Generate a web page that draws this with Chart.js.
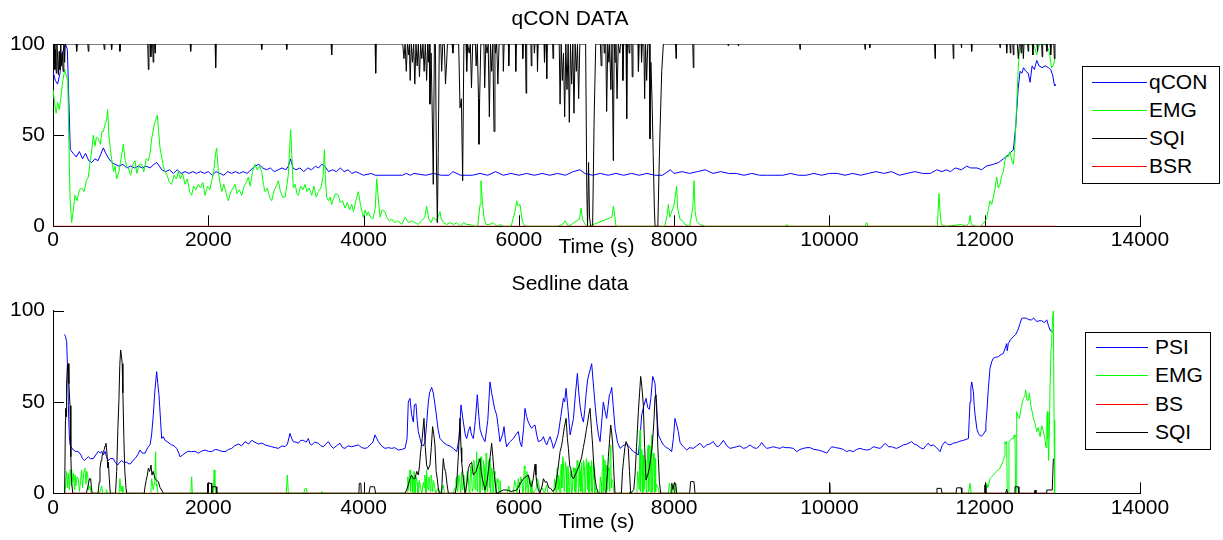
<!DOCTYPE html>
<html>
<head>
<meta charset="utf-8">
<script src="https://cdn.jsdelivr.net/npm/chart.js@4.4.0/dist/chart.umd.min.js"></script>
<style>
  body { margin: 0; background: #fff; width: 1223px; height: 540px; overflow: hidden; position: relative; font-family: "Liberation Sans", Arial, sans-serif; }
  canvas { position: absolute; left: 0; }
  #top { top: 0; }
  #bottom { top: 260px; }
  .legend { position: absolute; border: 1px solid #000; background: #fff; box-sizing: border-box; }
  .legend .ln { position: absolute; height: 0; border-top: 1px solid; }
  .legend .tx { position: absolute; font-size: 21px; line-height: 24px; height: 24px; color: #000; white-space: nowrap; }
</style>
</head>
<body>
<canvas id="top" width="1223" height="260"></canvas>
<canvas id="bottom" width="1223" height="280"></canvas>
<div id="legTop" class="legend" style="left:1082px;top:66px;width:138px;height:118px"></div>
<div id="legBottom" class="legend" style="left:1085px;top:332px;width:126px;height:118px"></div>
<script>
// axis ticks
const timeTicks = [0, 2000, 4000, 6000, 8000, 10000, 12000, 14000];
const valueTicks = [0, 50, 100];

// ---- qCON DATA (time s, value) ----
const topLabels = ["qCON", "EMG", "SQI", "BSR"];
const topColors = ["#0000ff", "#00ff00", "#000000", "#ff0000"];

const qconTop = [[0,85],[30,80],[60,78],[90,84],[120,95],[160,100],[185,97],[200,75],[223,42],[260,40],[300,38],[340,41],[380,37],[420,40],[460,36],[500,35],[540,37],[580,36],[620,40],[648,43],[680,40],[720,37],[760,35],[800,34],[850,33],[900,34],[950,32],[1000,33],[1050,32],[1100,33],[1150,32],[1200,33],[1250,32],[1300,34],[1335,35],[1370,33],[1400,31],[1450,30],[1500,31],[1550,29],[1600,31],[1650,29],[1700,30],[1750,29],[1800,30],[1850,29],[1900,30],[1950,29],[2000,30],[2050,28],[2100,30],[2150,29],[2200,28],[2250,30],[2300,29],[2350,30],[2400,29],[2450,30],[2500,29],[2550,31],[2600,33],[2650,34],[2700,32],[2750,31],[2800,32],[2850,30],[2900,31],[2950,32],[3000,31],[3030,33],[3061,37],[3090,32],[3130,31],[3180,32],[3230,30],[3280,32],[3330,31],[3380,33],[3420,32],[3460,34],[3500,33],[3550,30],[3600,31],[3650,30],[3700,32],[3750,30],[3800,31],[3850,29],[3900,30],[3950,29],[4000,28],[4100,29],[4150,28],[4200,28],[4300,28],[4400,28],[4500,28],[4550,29],[4600,28],[4650,29],[4800,28],[4900,29],[5000,28],[5100,28],[5150,30],[5250,28],[5400,28],[5500,29],[5600,28],[5700,30],[5800,28],[5900,29],[6000,28],[6100,29],[6200,28],[6300,29],[6400,28],[6500,29],[6600,28],[6700,30],[6787,31],[6850,29],[6950,28],[7050,29],[7150,28],[7250,29],[7350,28],[7450,29],[7550,28],[7650,29],[7750,28],[7850,28],[7950,31],[8000,29],[8100,30],[8200,29],[8300,30],[8400,31],[8500,29],[8600,30],[8700,29],[8800,29],[8900,28],[9000,29],[9100,28],[9200,28],[9300,28],[9400,28],[9500,29],[9600,28],[9700,28],[9800,29],[9900,28],[10000,29],[10100,29],[10200,28],[10300,29],[10400,28],[10500,29],[10600,30],[10700,29],[10800,30],[10900,28],[11000,29],[11100,30],[11200,29],[11300,29],[11380,31],[11450,30],[11500,31],[11560,30],[11620,32],[11700,31],[11768,33],[11820,32],[11900,32],[11960,31],[12020,33],[12111,34],[12180,35],[12240,37],[12300,39],[12369,42],[12400,55],[12430,75],[12455,85],[12480,84],[12500,87],[12530,85],[12560,84],[12584,79],[12610,88],[12640,86],[12670,91],[12700,88],[12740,87],[12780,88],[12820,87],[12850,86],[12875,83],[12895,78],[12905,77]];

const emgTop = [[0,75],[20,68],[40,62],[60,68],[80,64],[100,70],[120,78],[150,86],[175,82],[190,80],[205,45],[220,15],[240,2],[260,8],[283,17],[310,14],[340,20],[369,21],[400,19],[430,25],[455,27],[480,36],[500,42],[519,50],[540,44],[560,49],[583,48],[610,45],[630,52],[648,52],[670,56],[690,58],[704,64],[720,50],[740,42],[755,37],[780,30],[800,33],[820,26],[850,30],[880,38],[906,45],[930,36],[950,33],[970,32],[1000,28],[1030,34],[1056,36],[1080,29],[1110,34],[1142,34],[1170,30],[1200,37],[1228,36],[1250,40],[1271,48],[1300,55],[1320,58],[1344,61],[1360,52],[1378,43],[1400,38],[1420,33],[1443,30],[1470,28],[1500,24],[1528,23],[1560,28],[1590,26],[1614,30],[1640,26],[1670,29],[1700,23],[1730,26],[1760,19],[1786,17],[1810,22],[1840,20],[1872,23],[1900,21],[1930,24],[1958,17],[1990,22],[2020,20],[2044,25],[2070,30],[2095,40],[2108,43],[2130,30],[2150,24],[2173,19],[2200,23],[2230,18],[2259,14],[2290,19],[2320,21],[2345,23],[2370,18],[2400,20],[2431,17],[2460,22],[2490,24],[2516,27],[2540,22],[2570,30],[2602,34],[2630,31],[2660,33],[2688,30],[2710,23],[2731,19],[2760,21],[2790,16],[2817,14],[2850,20],[2875,22],[2903,25],[2930,19],[2960,16],[2989,16],[3010,22],[3030,28],[3061,53],[3080,35],[3095,21],[3120,23],[3140,18],[3160,17],[3190,22],[3220,20],[3246,23],[3270,19],[3300,21],[3332,17],[3360,22],[3390,16],[3418,19],[3450,21],[3480,28],[3495,42],[3510,25],[3525,16],[3550,14],[3570,16],[3589,12],[3610,15],[3640,18],[3675,17],[3700,13],[3730,14],[3761,10],[3790,13],[3820,9],[3847,12],[3870,8],[3900,14],[3933,19],[3960,12],[3980,8],[3997,5],[4020,9],[4040,6],[4061,8],[4090,5],[4120,4],[4150,10],[4169,26],[4190,15],[4212,5],[4240,9],[4276,8],[4300,5],[4330,3],[4362,4],[4400,2],[4448,3],[4490,1],[4534,5],[4580,2],[4620,3],[4662,2],[4700,1],[4748,3],[4790,5],[4812,11],[4840,4],[4870,2],[4898,5],[4940,3],[4984,8],[5000,4],[5030,2],[5070,1],[5113,2],[5160,1],[5200,2],[5250,0],[5285,2],[5330,1],[5371,1],[5420,0],[5470,0],[5500,12],[5512,25],[5530,14],[5550,5],[5577,1],[5620,1],[5671,2],[5720,0],[5757,1],[5800,0],[5900,0],[5950,8],[5972,14],[5990,11],[6015,12],[6040,4],[6058,1],[6100,0],[6500,0],[6560,1],[6594,3],[6640,0],[6780,4],[6801,10],[6820,4],[6852,1],[6900,0],[7200,5],[7217,11],[7235,6],[7251,0],[7880,0],[7910,6],[7925,12],[7945,5],[7968,8],[8000,12],[8032,22],[8045,10],[8075,4],[8110,3],[8140,1],[8200,0],[8240,10],[8256,25],[8270,8],[8290,3],[8330,1],[8400,0],[9430,0],[9449,1],[9480,0],[10460,0],[10480,2],[10500,0],[11390,0],[11411,18],[11425,8],[11440,1],[11500,0],[11700,1],[11760,0],[11800,2],[11811,6],[11830,1],[11880,0],[11950,0],[12025,4],[12050,10],[12068,14],[12090,12],[12111,16],[12130,20],[12154,27],[12175,21],[12197,23],[12220,28],[12240,30],[12260,36],[12283,39],[12300,38],[12326,41],[12350,36],[12369,34],[12390,45],[12412,67],[12430,85],[12446,96],[12470,98],[12498,100],[12541,100],[12600,100],[12627,100],[12650,97],[12670,94],[12690,98],[12713,100],[12760,100],[12799,99],[12830,96],[12850,90],[12863,87],[12880,88],[12906,92]];

const sqiTop = [[0,100],[8,90],[16,100],[25,86],[33,97],[42,84],[50,100],[60,92],[70,83],[80,96],[90,86],[100,100],[110,88],[120,95],[130,85],[140,100],[150,90],[158,100],
[298,100],[305,96],[312,100],[448,100],[455,96],[462,100],[654,100],[661,97],[668,100],[748,100],[755,97],[762,100],[855,100],[862,96],[869,100],
[1220,100],[1228,86],[1236,100],[1252,100],[1260,93],[1268,100],[1283,100],[1290,90],[1298,100],[1308,100],[1314,95],[1320,100],
[1766,100],[1773,96],[1780,100],[2088,100],[2095,87],[2102,100],[2681,100],[2688,97],[2695,100],[3003,100],[3010,97],[3017,100],[3582,100],[3589,94],[3596,100],[4149,100],[4156,84],[4163,100],
[4505,100],[4520,92],[4535,100],[4550,85],[4565,100],[4580,94],[4590,100],[4600,80],[4615,100],[4630,90],[4645,100],[4660,78],[4675,100],[4690,88],[4705,100],[4720,82],[4735,100],[4750,92],[4765,100],[4780,85],[4795,100],[4812,80],[4825,100],[4835,90],[4845,100],[4855,67],[4870,95],[4885,60],[4898,23],[4912,100],[4925,100],[4940,30],[4950,2],[4962,40],[4975,100],
[4995,100],[5006,85],[5020,100],[5040,100],[5055,78],[5070,90],[5080,100],[5140,100],[5150,95],[5160,100],[5225,100],[5242,65],[5260,70],[5276,25],[5292,100],
[5320,100],[5328,85],[5340,100],[5360,95],[5375,100],[5390,76],[5405,100],[5440,100],[5450,88],[5465,100],[5480,70],[5486,45],[5495,70],[5510,100],[5550,100],[5560,76],[5575,100],[5590,95],[5605,100],[5620,60],[5635,100],[5650,85],[5665,100],[5680,52],[5692,100],[5700,95],[5715,100],[5730,78],[5745,100],
[5795,100],[5800,85],[5810,100],[5865,100],[5870,88],[5878,100],[5955,100],[5960,85],[5968,100],[6045,100],[6050,92],[6058,100],[6085,100],[6093,73],[6101,100],[6155,100],[6160,88],[6168,100],[6195,100],[6200,95],[6208,100],[6235,100],[6240,85],[6248,100],[6325,100],[6330,90],[6338,100],[6352,100],[6359,81],[6366,100],[6435,100],[6440,92],[6448,100],
[6520,100],[6531,67],[6545,100],[6560,80],[6575,95],[6590,60],[6605,100],[6620,75],[6635,100],[6650,57],[6665,100],[6680,78],[6695,100],[6710,62],[6725,100],[6740,85],[6755,100],[6770,70],[6785,100],
[6860,100],[6875,20],[6885,0],[6898,35],[6910,5],[6925,0],[6950,0],[6970,60],[6990,100],
[7050,100],[7060,88],[7070,100],[7095,100],[7100,95],[7108,100],[7120,100],[7131,63],[7145,100],[7160,90],[7170,100],[7185,75],[7200,100],[7210,100],[7217,36],[7228,100],[7240,90],[7250,100],[7265,70],[7280,100],[7300,95],[7310,100],[7335,100],[7340,80],[7350,100],[7380,100],[7389,59],[7398,100],[7415,100],[7420,95],[7430,100],[7455,100],[7460,82],[7470,100],
[7535,100],[7540,85],[7550,100],[7575,100],[7580,90],[7590,100],[7610,100],[7620,70],[7632,100],[7646,80],[7660,100],[7680,100],[7689,48],[7700,90],[7715,70],[7730,40],[7745,10],[7754,0],[7790,0],[7805,30],[7820,55],[7840,85],[7861,100],
[8018,100],[8024,92],[8030,100],[8240,100],[8247,87],[8254,100],[8692,100],[8697,99],[8702,100],[8822,100],[8827,99],[8832,100],[9616,100],[9621,97],[9626,100],[10454,100],[10459,97],[10464,100],[10515,100],[10520,98],[10525,100],
[11354,100],[11360,92],[11366,100],[11590,100],[11596,92],[11602,100],[11695,100],[11700,98],[11705,100],[11826,100],[11832,96],[11838,100],[12192,100],[12197,98],[12202,100],[12278,100],[12283,95],[12290,100],[12325,100],[12330,95],[12336,100],[12362,100],[12369,94],[12376,100],[12420,100],[12433,92],[12445,100],[12463,100],[12470,95],[12477,100],[12490,100],[12498,92],[12506,100],[12553,100],[12560,96],[12567,100],[12613,100],[12620,94],[12627,100],[12673,100],[12680,96],[12687,100],[12733,100],[12740,93],[12747,100],[12793,100],[12800,96],[12807,100],[12843,100],[12850,94],[12857,100],[12890,100],[12897,92],[12905,100],[12910,100]];

const bsrTop = [[0,0],[12910,0]];

// ---- Sedline data (time s, value) ----
const bottomLabels = ["PSI", "EMG", "BS", "SQI"];
const bottomColors = ["#0000ff", "#00ff00", "#ff0000", "#000000"];

const psiBottom = [[146,87],[160,86],[176,83],[190,65],[198,48],[210,32],[219,26.5],[240,25],[262,23.7],[290,23],[326,22.8],[360,21],[380,19],[404,18],[430,19],[455,20],[480,19],[519,19],[550,21],[584,23],[610,22],[627,23],[650,21],[670,23],[690,20],[713,18],[740,19],[777,19],[800,17],[833,15.5],[860,17],[884,18],[910,17],[949,17],[980,16],[1004,16.4],[1030,18],[1056,19],[1090,21],[1120,23.7],[1150,22],[1185,22],[1220,25],[1250,26.5],[1270,32],[1292,43],[1310,55],[1335,66.6],[1350,60],[1365,54],[1385,40],[1400,30],[1420,31],[1443,29],[1480,28],[1510,27],[1528,26.5],[1560,26],[1593,24.6],[1620,22],[1636,20],[1670,21],[1700,22],[1740,23],[1786,22.8],[1830,23],[1872,22],[1910,23],[1958,23.7],[2000,23],[2044,22.8],[2090,24],[2130,23.7],[2170,23],[2216,22.8],[2260,24],[2302,24.6],[2340,26],[2388,27],[2430,26],[2473,28.3],[2520,27],[2560,29],[2600,28],[2645,27],[2690,27.5],[2731,26.5],[2770,26],[2817,25.5],[2860,25],[2903,24.6],[2950,26],[2989,25.5],[3020,27],[3052,32.8],[3075,30],[3095,28.3],[3130,28],[3160,27.4],[3190,29],[3225,29],[3260,28],[3289,30],[3310,27],[3332,26.5],[3370,28],[3418,27.4],[3450,26],[3483,25.5],[3515,27],[3546,28.3],[3580,26],[3611,24.6],[3650,26],[3697,27.4],[3730,25],[3761,24.6],[3800,26],[3847,25.5],[3890,26],[3933,26.5],[3975,25],[4019,24.6],[4050,25],[4083,26.5],[4120,28],[4147,32],[4170,30],[4190,28.3],[4230,26],[4276,24.6],[4320,25],[4362,24.6],[4400,25],[4448,23.7],[4490,24],[4534,24.6],[4560,30],[4576,50],[4598,52],[4619,43],[4641,39],[4654,48.4],[4675,49],[4690,40],[4705,33.8],[4727,30],[4748,26.5],[4770,26],[4791,28.3],[4812,38],[4834,50],[4850,55],[4877,58],[4898,55],[4915,50],[4932,44.7],[4960,35],[4984,30],[5027,28],[5070,26.5],[5110,26],[5156,24.6],[5199,22.8],[5230,30],[5255,48.4],[5285,39],[5310,32],[5328,30],[5350,34],[5371,36.5],[5390,32],[5414,30],[5440,40],[5465,54],[5485,42],[5500,35],[5530,31],[5564,28.3],[5600,40],[5628,61],[5650,55],[5671,50],[5690,46],[5714,43],[5735,36],[5757,28.3],[5790,32],[5809,36.5],[5825,30],[5843,25.5],[5880,28],[5929,30],[5960,32],[5993,33.8],[6015,28],[6036,25.5],[6060,35],[6079,46.5],[6100,42],[6122,39],[6145,37],[6165,35.6],[6190,37],[6208,37.4],[6230,32],[6251,28.3],[6290,29],[6316,31],[6340,28],[6359,26.5],[6380,29],[6402,31],[6425,28],[6445,24.6],[6475,28],[6509,32.8],[6540,42],[6574,52],[6590,50],[6608,57.5],[6635,45],[6660,32],[6680,36],[6703,41],[6730,55],[6754,65.7],[6770,56],[6788,48],[6810,42],[6831,39],[6850,46],[6865,54],[6885,62],[6900,64.8],[6920,68],[6938,71],[6955,62],[6968,55.6],[6985,47],[7003,39],[7025,32],[7046,28.3],[7065,38],[7088,50],[7110,45],[7131,41],[7150,48],[7166,54],[7180,55],[7196,58],[7215,48],[7239,35.6],[7270,28],[7303,24.6],[7340,26],[7389,27],[7430,25],[7475,22.8],[7510,22],[7539,21],[7560,30],[7582,43],[7610,48],[7638,52],[7660,47],[7681,46],[7700,52],[7724,64],[7740,62],[7754,60],[7775,45],[7797,32],[7830,29],[7861,26.5],[7900,25],[7925,24.6],[7968,22.8],[7990,30],[8011,41],[8030,38],[8054,33.8],[8075,28],[8097,26.5],[8130,25],[8161,23.7],[8200,25],[8247,24.6],[8290,26],[8333,27.4],[8380,25],[8419,26.5],[8460,27],[8505,28.3],[8540,26],[8569,25.5],[8600,27],[8634,29],[8680,26],[8720,24.6],[8760,25],[8806,25.5],[8850,26],[8891,24.6],[8930,25],[8977,26.5],[9020,25],[9063,24.6],[9100,26],[9127,27.8],[9160,26],[9192,24.6],[9240,25],[9278,25.5],[9320,25],[9364,24.6],[9400,25.5],[9428,25],[9480,25],[9535,24.6],[9578,22.8],[9620,24],[9664,24.6],[9710,25],[9750,25],[9800,24],[9857,23.7],[9910,23],[9965,22],[10000,24],[10029,25.5],[10080,25],[10136,24.6],[10180,24],[10222,22.8],[10260,23.5],[10308,22.8],[10350,24],[10394,24.6],[10440,24],[10480,23.7],[10520,24],[10566,25.5],[10610,25],[10652,24.6],[10690,26],[10716,27.4],[10760,25.5],[10802,25.5],[10830,25],[10866,24.6],[10910,25.5],[10952,26.5],[11000,27],[11059,28.3],[11090,27],[11124,26.5],[11170,25],[11210,24.3],[11240,26],[11274,27.4],[11300,26],[11339,26.5],[11380,25],[11425,22.8],[11450,26],[11489,28.3],[11520,27],[11553,26.5],[11600,27.5],[11639,27.8],[11680,28.5],[11725,29],[11760,29.5],[11790,30],[11800,40],[11811,50],[11822,58],[11833,61],[11854,55.5],[11865,48],[11876,43],[11900,35],[11919,32.8],[11940,31.5],[11962,31.4],[11985,32.5],[12004,34],[12015,38],[12025,43],[12047,57.5],[12068,68.4],[12090,72],[12111,74],[12140,74.5],[12175,74.8],[12210,76],[12240,76.6],[12260,79],[12283,82],[12290,78],[12304,82],[12330,84],[12369,85.8],[12400,87],[12433,90],[12455,93],[12476,95.8],[12500,96],[12541,95.8],[12570,95],[12605,95],[12630,96],[12670,94],[12700,94.5],[12734,94.5],[12770,93.5],[12799,95],[12820,92],[12841,89.4],[12876,88.5]];

const emgBottom = [[150,0],[165,5],[175,12],[185,3],[198,11],[210,2],[222,13],[235,4],[240,12.8],[255,6],[265,11],[275,2],[283,10],[295,4],[310,9],[326,8],[340,1],[355,7],[369,12.8],[380,3],[395,11],[412,13.7],[425,5],[435,12],[447,10],[460,2],[477,4],[490,0],[600,0],[627,4],[640,0],[680,0],[691,2],[700,0],[850,0],[862,8],[875,1],[891,4],[900,0],[1250,0],[1262,3],[1271,8],[1290,2],[1310,6],[1322,22.8],[1330,4],[1338,5],[1350,0],[1775,0],[1786,9],[1795,0],[2065,0],[2076,12.8],[2085,4],[2095,0],[3005,0],[3018,10],[3030,1],[3040,0],[3230,0],[3246,2.7],[3262,2.7],[3275,0],[3455,0],[3461,1],[3470,0],[4560,0],[4570,9],[4580,2],[4590,11],[4598,12.8],[4606,1],[4614,8],[4625,9],[4633,0],[4641,7],[4648,12],[4655,10],[4662,0],[4668,2],[4680,9],[4690,6],[4700,0],[4710,1],[4720,7],[4730,4],[4750,0],[4770,6],[4780,3],[4788,10],[4795,8],[4803,0],[4812,12.8],[4820,4],[4830,2],[4840,9],[4850,7],[4860,1],[4868,10],[4877,8],[4890,1],[4900,7],[4910,5],[4930,0],[4960,3],[4990,0],[5027,4.5],[5040,0],[5150,0],[5180,3],[5190,8],[5200,9],[5208,1],[5215,2],[5228,10],[5240,6],[5252,0],[5264,11.9],[5272,2],[5280,3],[5290,10],[5300,7],[5310,0],[5320,1],[5335,12],[5350,8],[5360,0],[5370,4],[5380,15],[5390,12],[5400,1],[5410,3],[5420,18],[5430,14],[5438,2],[5445,5],[5457,22.8],[5463,1],[5470,8],[5480,19],[5490,15],[5498,0],[5505,4],[5513,20],[5521,17],[5528,2],[5535,6],[5545,18],[5555,14],[5562,0],[5570,3],[5578,22],[5585,20],[5592,1],[5600,7],[5608,18],[5615,16],[5622,3],[5628,19],[5634,0],[5640,5],[5650,14],[5660,11],[5667,0],[5675,2],[5684,12],[5692,10],[5700,0],[5710,3],[5720,8],[5730,6],[5745,0],[5757,7],[5770,0],[5850,0],[5870,4],[5890,0],[5930,0],[5945,7],[5960,5],[5975,0],[5993,8],[6010,2],[6025,9],[6040,6],[6050,0],[6060,1],[6070,15],[6079,13.7],[6087,0],[6095,4],[6103,12],[6110,10],[6118,0],[6125,2],[6135,9],[6145,7],[6155,0],[6165,6.4],[6180,0],[6220,2],[6240,8],[6251,6.4],[6270,1],[6300,3],[6330,0],[6359,4.5],[6375,0],[6450,0],[6460,8],[6470,5],[6480,0],[6488,11],[6495,14],[6505,2],[6512,10],[6520,8],[6530,0],[6540,13],[6548,16],[6555,3],[6565,20],[6574,18],[6582,1],[6590,6],[6600,17],[6610,14],[6618,0],[6625,4],[6632,15],[6638,11.9],[6646,0],[6655,3],[6662,12],[6670,9],[6680,0],[6690,2],[6700,14],[6710,12],[6717,1],[6724,13.7],[6732,0],[6740,5],[6750,18],[6760,15],[6768,0],[6775,4],[6782,16],[6790,12],[6800,1],[6810,17],[6818,0],[6825,6],[6835,18],[6845,14],[6852,0],[6860,4],[6870,19],[6878,16],[6886,2],[6895,17],[6902,0],[6910,5],[6918,15],[6925,12],[6932,1],[6938,18],[6946,0],[6955,8],[6962,17],[6970,14],[6976,0],[6981,3.6],[7000,0],[7040,0],[7050,9],[7060,6],[7068,0],[7075,13],[7082,21],[7088,19],[7094,1],[7100,5],[7108,18],[7115,15],[7123,0],[7131,15.5],[7138,2],[7145,4],[7152,14],[7160,12],[7170,1],[7176,22],[7183,26.5],[7190,3],[7195,8],[7210,6.4],[7225,0],[7420,0],[7432,1],[7445,0],[7520,0],[7530,12],[7540,8],[7550,2],[7561,34.7],[7568,1],[7575,10],[7583,24],[7590,20],[7597,0],[7603,21],[7610,2],[7620,6],[7628,18],[7635,14],[7642,0],[7650,9],[7660,25],[7667,26.5],[7673,1],[7680,12],[7688,26],[7695,22],[7702,0],[7711,32],[7718,1],[7725,8],[7732,22],[7740,18],[7747,0],[7754,19],[7762,1],[7770,5],[7790,3.6],[7810,0],[7925,0],[7939,5.5],[7955,0],[7995,0],[8011,5.5],[8025,0],[11790,0],[11811,5.5],[11825,0],[12010,0],[12025,5.5],[12040,3],[12068,8],[12090,9],[12111,10],[12130,11],[12154,11.9],[12175,13],[12197,13.7],[12220,16],[12240,18],[12252,20],[12261,28.3],[12272,27],[12283,28.3],[12290,0],[12300,0],[12312,28],[12326,29],[12350,30],[12369,30],[12380,32],[12390,31],[12398,0],[12405,0],[12412,44.7],[12430,42],[12446,41],[12470,47],[12498,52],[12515,53],[12527,56.6],[12545,51],[12562,51],[12575,55],[12592,48.4],[12610,45],[12627,41],[12650,38],[12670,33.8],[12690,36],[12713,31],[12735,37],[12756,33.8],[12775,30],[12790,25],[12800,40],[12807,44.7],[12815,30],[12824,18],[12835,40],[12841,57.5],[12855,80],[12863,85],[12875,97],[12884,100],[12893,40],[12901,0]];

const bsBottom = [[150,0],[12890,0]];

const sqiBottom = [[150,0],[160,40],[163,46.5],[168,42],[175,60],[185,70],[198,71],[205,60],[219,48],[230,20],[240,6],[255,0],[430,0],[445,3],[460,6],[470,8],[485,8],[495,3],[505,0],[580,0],[595,6],[605,13.7],[620,18],[630,20],[648,22.8],[660,24],[670,26],[682,27.4],[695,22],[705,14],[713,17],[725,8],[738,0],[805,0],[820,11.9],[835,35],[850,52],[860,70],[871,78.5],[880,76],[891,71],[900,55],[913,30],[925,12],[940,3],[949,0],[1175,0],[1185,3.6],[1200,7],[1215,10],[1228,13.7],[1245,12],[1262,15.5],[1275,10],[1290,12],[1314,8],[1335,7],[1357,6.4],[1380,3],[1400,1.8],[1420,0],[1985,0],[1990,5.5],[2040,5.5],[2045,0],[2050,3.6],[2100,3.6],[2110,0],[3940,0],[3945,5.5],[3965,5.5],[3970,0],[4070,0],[4085,3.6],[4140,3.6],[4155,0],[4530,0],[4555,1.8],[4576,4.6],[4598,8],[4619,10],[4640,8],[4662,8],[4685,12],[4705,10],[4720,15],[4735,22.8],[4755,30],[4778,41],[4795,25],[4812,15.5],[4830,13],[4855,15.5],[4872,25],[4889,36.5],[4905,32],[4919,26.5],[4935,12],[4949,8],[4962,3],[4975,0],[5005,0],[5015,10],[5027,19],[5040,14],[5057,11.9],[5075,5],[5092,0],[5180,0],[5199,4.5],[5220,20],[5242,41],[5255,25],[5264,17],[5285,8],[5307,0],[5330,5],[5350,13.7],[5370,16],[5393,17],[5405,12],[5414,10],[5430,11],[5448,11.9],[5470,15],[5500,19],[5515,12],[5530,8],[5564,1.8],[5585,5],[5607,11.9],[5630,20],[5650,27.4],[5665,20],[5680,11.9],[5700,4],[5714,0],[5800,1.8],[5850,1.8],[5900,1],[5972,1.8],[6000,4],[6030,6],[6058,8],[6090,9],[6122,10],[6145,5],[6165,3.6],[6185,8],[6208,15.9],[6220,10],[6229,6.4],[6250,2],[6270,0],[6300,4],[6316,8],[6340,6],[6359,6.4],[6385,3],[6410,2.7],[6440,1],[6470,3],[6500,12],[6531,22.8],[6550,26],[6565,30],[6585,36],[6608,41],[6625,30],[6638,24.6],[6655,15],[6668,13.7],[6685,9],[6703,8],[6725,10],[6745,11.9],[6775,15],[6810,20],[6830,25],[6852,30],[6870,35],[6887,39],[6900,43],[6917,46.5],[6935,35],[6950,26.5],[6965,15],[6981,8],[7000,3],[7024,0],[7120,0],[7140,10],[7153,20],[7170,30],[7183,37.4],[7196,33],[7209,26.5],[7225,10],[7239,0],[7320,0],[7335,12],[7346,17],[7365,25],[7380,28.3],[7395,27],[7410,24.6],[7425,12],[7440,0],[7480,2],[7496,10],[7515,25],[7539,44.7],[7555,55],[7569,64],[7585,58],[7603,48.4],[7620,25],[7638,7.3],[7660,10],[7681,13.7],[7700,20],[7719,26.5],[7740,40],[7754,53],[7765,54],[7775,48],[7790,25],[7797,19],[7810,6],[7827,0],[7960,0],[7970,5.5],[7985,2],[8000,5.5],[8020,5.5],[8032,0],[8200,0],[8212,6.4],[8255,6.4],[8269,0],[10000,0],[10004,5.5],[10009,0],[11375,0],[11385,2.7],[11440,2.7],[11450,0],[11630,0],[11640,3],[11695,3],[11705,0],[11995,0],[12000,4.5],[12010,4.5],[12015,0],[12270,0],[12283,2.2],[12296,0],[12380,0],[12390,3.6],[12430,3.6],[12440,0],[12640,0],[12648,1.8],[12660,0],[12790,0],[12799,1.8],[12870,1.8],[12884,19]];

Chart.defaults.font.family = '"Liberation Sans", Arial, sans-serif';
Chart.defaults.font.size = 21;
Chart.defaults.color = "#000";

// MATLAB style ticks pointing into the plot
const inwardTicks = {
  id: "inwardTicks",
  beforeDatasetsDraw(chart) {
    const { ctx, chartArea: a, scales: { x, y } } = chart;
    ctx.save();
    ctx.strokeStyle = "#000";
    ctx.lineWidth = 1;
    ctx.beginPath();
    x.ticks.forEach((t) => {
      const px = Math.round(x.getPixelForValue(t.value)) + 0.5;
      ctx.moveTo(px, a.bottom);
      ctx.lineTo(px, a.bottom - 11);
    });
    y.ticks.forEach((t) => {
      const py = Math.round(y.getPixelForValue(t.value)) + 0.5;
      ctx.moveTo(a.left, py);
      ctx.lineTo(a.left + 11, py);
    });
    ctx.stroke();
    ctx.restore();
  },
};

function lineSet(label, data, color, order) {
  return { label, data, borderColor: color, backgroundColor: color, borderWidth: 1, pointRadius: 0, tension: 0, fill: false, order };
}

function makeChart(id, title, titlePad, datasets, xHeight, tickPad, xTitlePad) {
  return new Chart(document.getElementById(id), {
    type: "line",
    data: { datasets },
    plugins: [inwardTicks],
    options: {
      responsive: false,
      animation: false,
      devicePixelRatio: 1,
      layout: { padding: { left: 0, right: 83, top: 0, bottom: 0 } },
      plugins: {
        legend: { display: false },
        tooltip: { enabled: false },
        title: { display: true, text: title, font: { size: 21, weight: "normal" }, color: "#000", padding: titlePad },
      },
      scales: {
        x: {
          type: "linear",
          min: 0,
          max: 14000,
          afterBuildTicks: (s) => { s.ticks = timeTicks.map((v) => ({ value: v })); },
          ticks: { padding: tickPad, maxRotation: 0, autoSkip: false, callback: (v) => String(v) },
          grid: { display: false, drawTicks: false },
          border: { display: true, color: "#000", width: 1 },
          title: { display: true, text: "Time (s)", font: { size: 21 }, padding: { top: 0, bottom: xTitlePad } },
          afterFit: (s) => { s.height = xHeight; },
        },
        y: {
          min: 0,
          max: 100,
          afterBuildTicks: (s) => { s.ticks = valueTicks.map((v) => ({ value: v })); },
          ticks: { padding: 8, callback: (v) => String(v) },
          grid: { display: false, drawTicks: false },
          border: { display: true, color: "#000", width: 1 },
          afterFit: (s) => { s.width = 53; },
        },
      },
    },
  });
}

makeChart("top", "qCON DATA", { top: 7, bottom: 11.8 }, [
  lineSet(topLabels[0], qconTop, topColors[0], 4),
  lineSet(topLabels[1], emgTop, topColors[1], 3),
  lineSet(topLabels[2], sqiTop, topColors[2], 2),
  lineSet(topLabels[3], bsrTop, topColors[3], 1),
], 33.7, 1, 0.4);

makeChart("bottom", "Sedline data", { top: 11.4, bottom: 14.1 }, [
  lineSet(bottomLabels[0], psiBottom, bottomColors[0], 4),
  lineSet(bottomLabels[1], emgBottom, bottomColors[1], 3),
  lineSet(bottomLabels[2], bsBottom, bottomColors[2], 2),
  lineSet(bottomLabels[3], sqiBottom, bottomColors[3], 1),
], 46.7, 2, 5.4);

// legends drawn as boxes over the plot, like the original figure
function buildLegend(id, labels, colors, rows, lineLeft, lineWidth, textLeft) {
  const box = document.getElementById(id);
  labels.forEach((lab, i) => {
    const ln = document.createElement("div");
    ln.className = "ln";
    ln.style.left = lineLeft + "px";
    ln.style.width = lineWidth + "px";
    ln.style.top = rows[i] + "px";
    ln.style.borderTopColor = colors[i];
    box.appendChild(ln);
    const tx = document.createElement("div");
    tx.className = "tx";
    tx.style.left = textLeft + "px";
    tx.style.top = (rows[i] - 12) + "px";
    tx.textContent = lab;
    box.appendChild(tx);
  });
}
buildLegend("legTop", topLabels, topColors, [15, 43, 71, 99], 9, 55, 66);
buildLegend("legBottom", bottomLabels, bottomColors, [14, 42, 71, 99], 10, 52, 69);
</script>
</body>
</html>
